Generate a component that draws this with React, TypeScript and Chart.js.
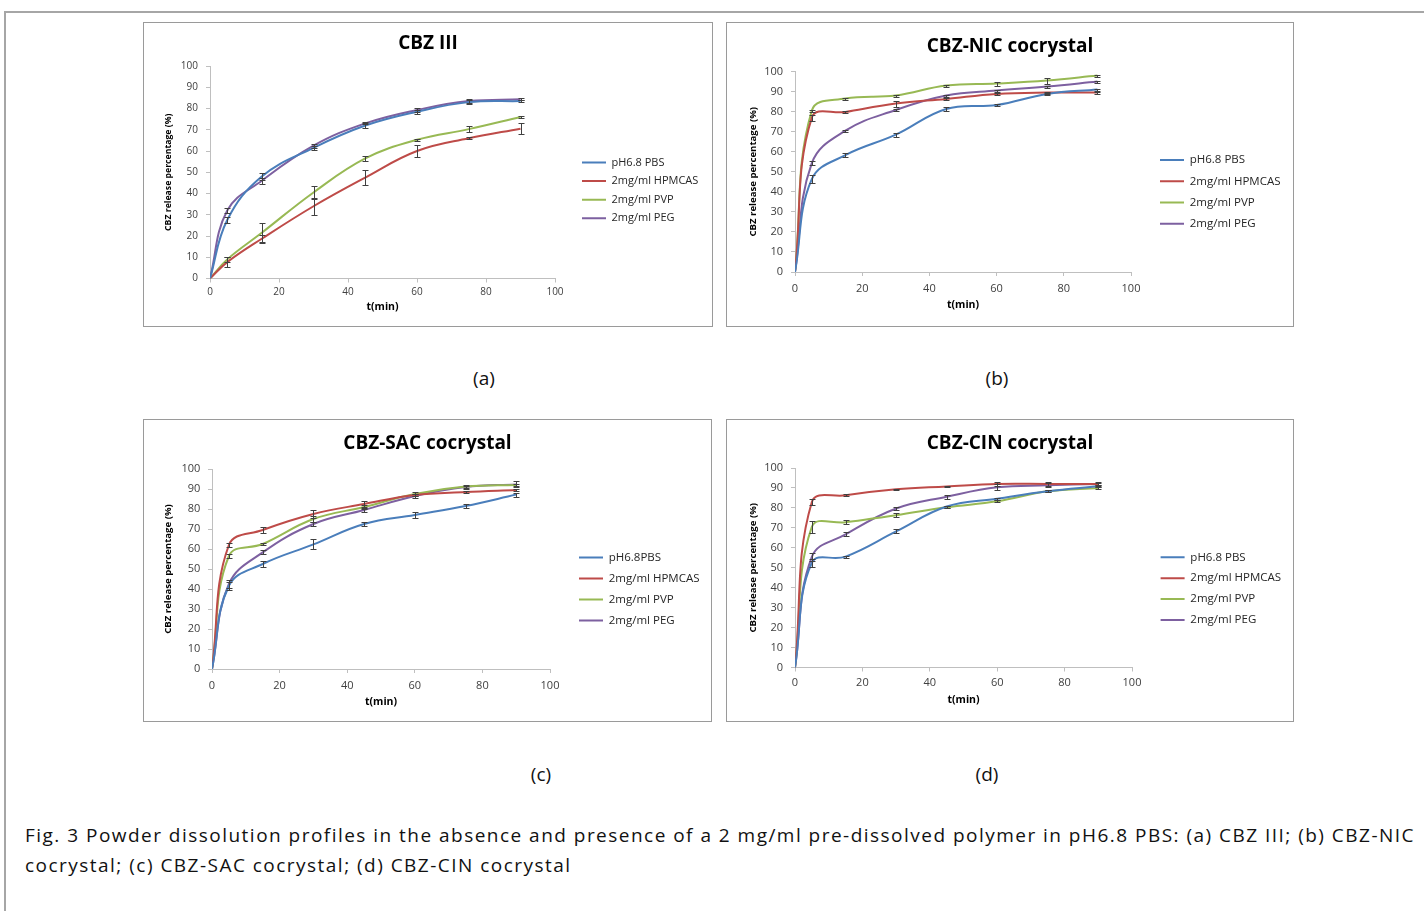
import React, { useEffect, useLayoutEffect, useRef } from "react";
import { Chart, registerables } from "chart.js";

Chart.register(...registerables);
Chart.defaults.font.family = "'Open Sans', 'DejaVu Sans', sans-serif";

// ---------- data ----------
const TIMES = [0, 5, 15, 30, 45, 60, 75, 90];
const NAMES = ["pH6.8 PBS", "2mg/ml HPMCAS", "2mg/ml PVP", "2mg/ml PEG"];
const NAMES_SAC = ["pH6.8PBS", "2mg/ml HPMCAS", "2mg/ml PVP", "2mg/ml PEG"];
const SERIES_COLORS = ["#4A7EBB", "#BE4B48", "#98B954", "#7D60A0"];
const X_TITLE = "t(min)";
const Y_TITLE = "CBZ release percentage (%)";

// (a) CBZ III
const A_PBS = [0, 27.5, 48, 61.5, 72, 78.5, 83, 83.5];
const A_PBS_ERR = [0, 1.5, 1.5, 1, 1, 1, 1, 0.5];
const A_HPMCAS = [0, 7.7, 18.7, 34, 47.5, 60, 66, 70.5];
const A_HPMCAS_ERR = [0, 2.5, 2, 4, 3.5, 3, 0.5, 2.5];
const A_PVP = [0, 9, 21.5, 40.5, 56.5, 65.3, 70.3, 76];
const A_PVP_ERR = [0, 1, 4.5, 3, 1, 0.5, 1.5, 0.5];
const A_PEG = [0, 32, 46, 62.5, 73, 79.3, 83.5, 84.3];
const A_PEG_ERR = [0, 1, 1.5, 1, 0.5, 1, 1, 0.5];

// (b) CBZ-NIC cocrystal
const B_PBS = [0, 46.3, 58.3, 68.5, 81.3, 83.3, 88.8, 91];
const B_PBS_ERR = [0, 2, 1, 1, 1, 0.5, 0.5, 0.5];
const B_HPMCAS = [0, 77, 79.8, 84, 86.3, 88.8, 89.5, 89.5];
const B_HPMCAS_ERR = [0, 1.5, 0.5, 1.5, 0.5, 0.5, 0.5, 0.5];
const B_PVP = [0, 80.5, 86.5, 88, 93, 94, 95.5, 98];
const B_PVP_ERR = [0, 0.5, 0.5, 0.5, 0.5, 1, 1.5, 0.5];
const B_PEG = [0, 54.3, 70.5, 80.8, 88, 90.5, 92.5, 95];
const B_PEG_ERR = [0, 1, 0.5, 0.5, 0.5, 0.5, 0.5, 0.5];

// (c) CBZ-SAC cocrystal
const C_PBS = [0, 41.6, 52.5, 62.3, 72.5, 77, 81.5, 87.2];
const C_PBS_ERR = [0, 2, 1.5, 2.5, 1, 1.5, 1, 1];
const C_HPMCAS = [0, 62, 69.5, 77.5, 82.5, 87, 88.5, 89.5];
const C_HPMCAS_ERR = [0, 1, 1.5, 2, 1.5, 0.5, 0.5, 0.5];
const C_PVP = [0, 56.5, 62.5, 75, 81, 87.5, 91.2, 92];
const C_PVP_ERR = [0, 1, 0.5, 1.5, 1, 1, 0.5, 0.5];
const C_PEG = [0, 42.5, 58.3, 72.5, 79.5, 86.5, 91, 92.3];
const C_PEG_ERR = [0, 2, 1, 1, 1, 1, 1, 1.5];

// (d) CBZ-CIN cocrystal
const D_PBS = [0, 52.5, 55.6, 68.2, 80.7, 84.6, 88.3, 90.8];
const D_PBS_ERR = [0, 2, 0.5, 1, 0.5, 0.5, 0.5, 0.5];
const D_HPMCAS = [0, 83, 86.3, 89.3, 90.7, 92, 92, 92];
const D_HPMCAS_ERR = [0, 1.5, 0.5, 0.3, 0.3, 1, 1, 0.5];
const D_PVP = [0, 70.5, 72.8, 76.3, 80.3, 83.3, 88.3, 90];
const D_PVP_ERR = [0, 3, 1, 1, 0.5, 0.5, 0.5, 0.5];
const D_PEG = [0, 55.5, 66.7, 79.7, 85.6, 90.3, 91.3, 92];
const D_PEG_ERR = [0, 2, 1, 1, 1, 1.5, 1, 1];

const CAPTION_LINE1 =
  "Fig. 3 Powder dissolution profiles in the absence and presence of a 2 mg/ml pre-dissolved polymer in pH6.8 PBS: (a) CBZ III; (b) CBZ-NIC";
const CAPTION_LINE2 = "cocrystal; (c) CBZ-SAC cocrystal; (d) CBZ-CIN cocrystal";

// ---------- panel specs (layout) ----------
type PanelSpec = {
  title: string;
  names: string[];
  values: number[][];
  errors: number[][];
  box: { left: number; top: number; width: number; height: number };
  plot: { l: number; r: number; t: number; b: number };
  titleY: number;
  yTitleX: number;
  xTitleY: number;
  xTickPad: number;
  yTickPad: number;
  legendX: number;
  legendY: number;
  legendGap: number;
  tickSize: number;
  yTitleSize: number;
  legendSize: number;
  label: string;
  labelX: number;
  labelY: number;
};

const PANELS: PanelSpec[] = [
  {
    title: "CBZ III",
    names: NAMES,
    values: [A_PBS, A_HPMCAS, A_PVP, A_PEG],
    errors: [A_PBS_ERR, A_HPMCAS_ERR, A_PVP_ERR, A_PEG_ERR],
    box: { left: 143, top: 22, width: 570, height: 305 },
    plot: { l: 66, r: 411, t: 43, b: 255.5 },
    titleY: 19.4,
    yTitleX: 24.5,
    xTitleY: 284.5,
    xTickPad: 3.7,
    yTickPad: 8,
    legendX: 438,
    legendY: 139.5,
    legendGap: 18.6,
    tickSize: 10,
    yTitleSize: 8.7,
    legendSize: 11,
    label: "(a)",
    labelX: 484,
    labelY: 378,
  },
  {
    title: "CBZ-NIC cocrystal",
    names: NAMES,
    values: [B_PBS, B_HPMCAS, B_PVP, B_PEG],
    errors: [B_PBS_ERR, B_HPMCAS_ERR, B_PVP_ERR, B_PEG_ERR],
    box: { left: 726, top: 22, width: 568, height: 305 },
    plot: { l: 68, r: 404, t: 48.5, b: 249 },
    titleY: 22,
    yTitleX: 26.5,
    xTitleY: 281.6,
    xTickPad: 6,
    yTickPad: 8,
    legendX: 433,
    legendY: 137.1,
    legendGap: 21.2,
    tickSize: 11,
    yTitleSize: 9.6,
    legendSize: 11.5,
    label: "(b)",
    labelX: 997,
    labelY: 378,
  },
  {
    title: "CBZ-SAC cocrystal",
    names: NAMES_SAC,
    values: [C_PBS, C_HPMCAS, C_PVP, C_PEG],
    errors: [C_PBS_ERR, C_HPMCAS_ERR, C_PVP_ERR, C_PEG_ERR],
    box: { left: 143, top: 419, width: 569, height: 303 },
    plot: { l: 68, r: 406, t: 49, b: 249 },
    titleY: 22,
    yTitleX: 24.5,
    xTitleY: 282.5,
    xTickPad: 6.2,
    yTickPad: 7.7,
    legendX: 435,
    legendY: 137.6,
    legendGap: 21,
    tickSize: 11,
    yTitleSize: 9.6,
    legendSize: 11.5,
    label: "(c)",
    labelX: 541,
    labelY: 774,
  },
  {
    title: "CBZ-CIN cocrystal",
    names: NAMES,
    values: [D_PBS, D_HPMCAS, D_PVP, D_PEG],
    errors: [D_PBS_ERR, D_HPMCAS_ERR, D_PVP_ERR, D_PEG_ERR],
    box: { left: 726, top: 419, width: 568, height: 303 },
    plot: { l: 68, r: 405, t: 48, b: 247.5 },
    titleY: 22,
    yTitleX: 26,
    xTitleY: 280,
    xTickPad: 5.2,
    yTickPad: 8,
    legendX: 433.6,
    legendY: 137.3,
    legendGap: 20.9,
    tickSize: 11,
    yTitleSize: 9.6,
    legendSize: 11.5,
    label: "(d)",
    labelX: 987,
    labelY: 774,
  },
];

const TITLE_SIZE = 19;
const XTITLE_SIZE = 10.5;
const TICK_LEN = 4;
const AXIS_COLOR = "#bfbfbf";
const TICK_COLOR = "#404040";

// ---------- plugins ----------
const boxPlacer = {
  id: "boxPlacer",
  beforeDraw(chart: any, _args: any, opts: any) {
    const lg = chart.legend;
    if (lg && opts && opts.x != null) {
      const pad = lg.options.labels.padding;
      lg.left = opts.x - pad;
      lg.width = 300;
      lg.right = lg.left + 300;
      lg.top = opts.y - pad;
      lg.bottom = chart.height;
      lg.height = lg.bottom - lg.top;
    }
    const tb = chart.titleBlock;
    if (tb) {
      tb.left = 0;
      tb.right = chart.width;
      tb.width = chart.width;
    }
  },
};

const errorBars = {
  id: "errorBars",
  afterDatasetsDraw(chart: any) {
    const ctx = chart.ctx;
    const xs = chart.scales.x;
    const ys = chart.scales.y;
    ctx.save();
    ctx.strokeStyle = "#404040";
    ctx.lineWidth = 1;
    chart.data.datasets.forEach((ds: any) => {
      const errs = ds.errors as number[] | undefined;
      if (!errs) return;
      ds.data.forEach((p: any, i: number) => {
        const e = errs[i];
        if (!e) return;
        const x = Math.round(xs.getPixelForValue(p.x)) + 0.5;
        const y1 = Math.round(ys.getPixelForValue(p.y + e)) + 0.5;
        const y2 = Math.round(ys.getPixelForValue(p.y - e)) + 0.5;
        ctx.beginPath();
        ctx.moveTo(x, y1);
        ctx.lineTo(x, y2);
        ctx.moveTo(x - 3, y1);
        ctx.lineTo(x + 3, y1);
        ctx.moveTo(x - 3, y2);
        ctx.lineTo(x + 3, y2);
        ctx.stroke();
      });
    });
    ctx.restore();
  },
};

// ---------- components ----------
function ChartPanel({ spec }: { spec: PanelSpec }) {
  const ref = useRef<HTMLCanvasElement>(null);
  const cw = spec.box.width - 2;
  const ch = spec.box.height - 2;

  useEffect(() => {
    if (!ref.current) return;
    const titleLH = TITLE_SIZE * 1.2;
    const titleMid = spec.titleY + 1.3;
    const tPadTop = titleMid - titleLH / 2;
    const tPadBottom = spec.plot.t - tPadTop - titleLH;
    const yTitleLH = spec.yTitleSize * 1.2;
    const padLeft = spec.yTitleX - yTitleLH / 2 - 4;
    const yAxisW = spec.plot.l - padLeft;
    const xTitleLH = XTITLE_SIZE * 1.2;
    const xAxisH = spec.xTitleY - spec.plot.b + 4 + xTitleLH / 2;
    const padBottom = ch - spec.plot.b - xAxisH;
    const padRight = cw - spec.plot.r - 1;

    const chart = new Chart(ref.current, {
      type: "line",
      data: {
        datasets: spec.values.map((vals, i) => ({
          label: spec.names[i],
          data: TIMES.map((t, j) => ({ x: t, y: vals[j] })),
          errors: spec.errors[i],
          borderColor: SERIES_COLORS[i],
          backgroundColor: SERIES_COLORS[i],
          borderWidth: 2,
          pointRadius: 0,
          pointHoverRadius: 0,
          tension: 0.4,
          fill: false,
        })) as any,
      },
      options: {
        responsive: false,
        animation: false,
        events: [],
        layout: { padding: { left: padLeft, right: padRight, top: 0, bottom: padBottom } },
        scales: {
          x: {
            type: "linear",
            min: 0,
            max: 100,
            ticks: {
              stepSize: 20,
              padding: spec.xTickPad,
              color: TICK_COLOR,
              font: { size: spec.tickSize },
              autoSkip: false,
              maxRotation: 0,
            },
            grid: { drawOnChartArea: false, drawTicks: true, tickLength: TICK_LEN, color: AXIS_COLOR },
            border: { display: true, color: AXIS_COLOR, width: 1 },
            title: {
              display: true,
              text: X_TITLE,
              color: "#000",
              font: { size: XTITLE_SIZE, weight: "bold" },
              padding: { top: 4, bottom: 4 },
            },
            afterFit: (s: any) => {
              s.height = xAxisH;
            },
          },
          y: {
            type: "linear",
            min: 0,
            max: 100,
            ticks: {
              stepSize: 10,
              padding: spec.yTickPad,
              color: TICK_COLOR,
              font: { size: spec.tickSize },
              autoSkip: false,
            },
            grid: { drawOnChartArea: false, drawTicks: true, tickLength: TICK_LEN, color: AXIS_COLOR },
            border: { display: true, color: AXIS_COLOR, width: 1 },
            title: {
              display: true,
              text: Y_TITLE,
              color: "#000",
              font: { size: spec.yTitleSize, weight: "bold" },
              padding: { top: 4, bottom: 4 },
            },
            afterFit: (s: any) => {
              s.width = yAxisW;
            },
          },
        },
        plugins: {
          title: {
            display: true,
            text: spec.title,
            color: "#000",
            font: { size: TITLE_SIZE, weight: "bold" },
            padding: { top: tPadTop, bottom: tPadBottom },
          },
          legend: {
            display: true,
            position: "right",
            align: "start",
            maxWidth: 1,
            labels: {
              usePointStyle: true,
              pointStyle: "line",
              pointStyleWidth: 24,
              padding: spec.legendGap - spec.legendSize,
              color: "#262626",
              font: { size: spec.legendSize },
            },
          },
          tooltip: { enabled: false },
          boxPlacer: { x: spec.legendX, y: spec.legendY - spec.legendSize / 2 },
        } as any,
      },
      plugins: [boxPlacer, errorBars],
    } as any);
    return () => chart.destroy();
  }, [spec]);

  return (
    <div
      style={{
        position: "absolute",
        left: spec.box.left,
        top: spec.box.top,
        width: spec.box.width - 2,
        height: spec.box.height - 2,
        border: "1px solid #9a9a9a",
        background: "#fff",
      }}
    >
      <canvas ref={ref} width={cw} height={ch} style={{ display: "block" }} />
    </div>
  );
}

function Caption() {
  const l1 = useRef<HTMLSpanElement>(null);
  const l2 = useRef<HTMLSpanElement>(null);
  useLayoutEffect(() => {
    const a = l1.current;
    const b = l2.current;
    if (!a || !b) return;
    a.style.letterSpacing = "0px";
    const w = a.getBoundingClientRect().width;
    const ls = (1390 - w) / CAPTION_LINE1.length;
    a.style.letterSpacing = ls + "px";
    b.style.letterSpacing = ls + "px";
  }, []);
  const common: React.CSSProperties = {
    position: "absolute",
    left: 25,
    fontFamily: "'Open Sans', sans-serif",
    fontSize: 19,
    lineHeight: "30px",
    whiteSpace: "nowrap",
    color: "#111",
  };
  return (
    <>
      <span ref={l1} style={{ ...common, top: 820 }}>
        {CAPTION_LINE1}
      </span>
      <span ref={l2} style={{ ...common, top: 850 }}>
        {CAPTION_LINE2}
      </span>
    </>
  );
}

export default function App() {
  return (
    <div>
      <div style={{ position: "absolute", left: 4, top: 11, width: 1420, height: 2, background: "#a6a6a6" }} />
      <div style={{ position: "absolute", left: 4, top: 11, width: 2, height: 900, background: "#a6a6a6" }} />
      {PANELS.map((p) => (
        <ChartPanel key={p.title} spec={p} />
      ))}
      {PANELS.map((p) => (
        <div
          key={p.label}
          style={{
            position: "absolute",
            left: p.labelX - 40,
            top: p.labelY - 14,
            width: 80,
            height: 28,
            lineHeight: "28px",
            textAlign: "center",
            fontFamily: "'Open Sans', sans-serif",
            fontSize: 19,
            color: "#111",
          }}
        >
          {p.label}
        </div>
      ))}
      <Caption />
    </div>
  );
}
